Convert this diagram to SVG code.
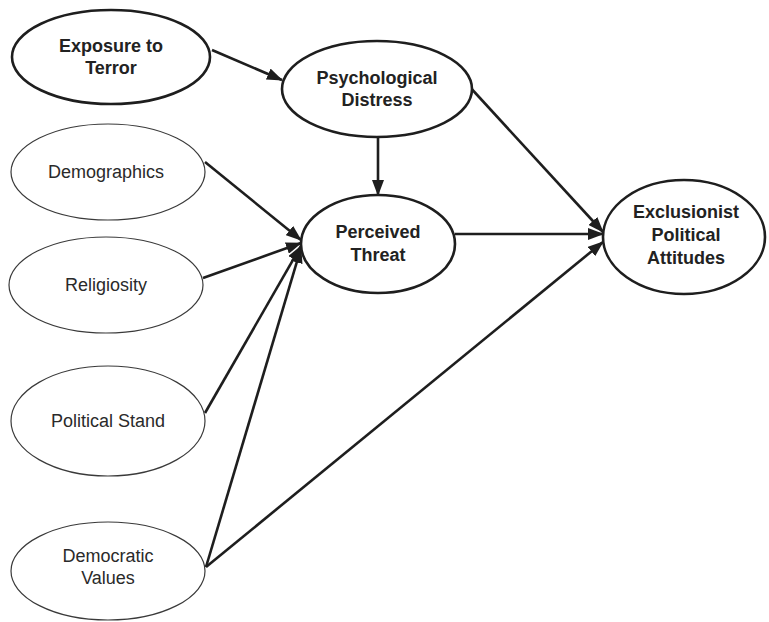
<svg xmlns="http://www.w3.org/2000/svg" width="769" height="622" viewBox="0 0 769 622">
<style>
.bold{fill:#fff;stroke:#1e1e1e;stroke-width:2.6}
.thin{fill:#fff;stroke:#3a3a3a;stroke-width:1.2}
.tb{font-family:"Liberation Sans",Arial,sans-serif;font-size:18px;font-weight:bold;fill:#222;text-anchor:middle}
.tr{font-family:"Liberation Sans",Arial,sans-serif;font-size:18px;fill:#2a2a2a;text-anchor:middle}
.c{stroke:#1e1e1e;stroke-width:2.6;fill:none}
</style>
<defs>
<marker id="ah" markerUnits="userSpaceOnUse" markerWidth="16" markerHeight="12" refX="15" refY="6" orient="auto" viewBox="0 0 16 12">
<path d="M0,0 L16,6 L0,12 Z" fill="#1e1e1e"/>
</marker>
</defs>
<g id="connectors">
<line class="c" x1="212" y1="50" x2="282" y2="80" marker-end="url(#ah)"/>
<line class="c" x1="378" y1="137" x2="378" y2="195" marker-end="url(#ah)"/>
<line class="c" x1="468" y1="85" x2="603" y2="232" marker-end="url(#ah)"/>
<line class="c" x1="455" y1="234" x2="603" y2="234" marker-end="url(#ah)"/>
<line class="c" x1="205" y1="162" x2="301" y2="240" marker-end="url(#ah)"/>
<line class="c" x1="203" y1="278" x2="301" y2="243" marker-end="url(#ah)"/>
<line class="c" x1="205" y1="413" x2="301" y2="246" marker-end="url(#ah)"/>
<line class="c" x1="206" y1="567" x2="301" y2="248" marker-end="url(#ah)"/>
<line class="c" x1="206" y1="567" x2="603" y2="242" marker-end="url(#ah)"/>
</g>
<g id="exposure">
<ellipse class="bold" cx="111" cy="57" rx="99" ry="47"/>
<text class="tb" x="111" y="52">Exposure to</text>
<text class="tb" x="111" y="74">Terror</text>
</g>
<g id="distress">
<ellipse class="bold" cx="377" cy="89" rx="95" ry="48"/>
<text class="tb" x="377" y="84">Psychological</text>
<text class="tb" x="377" y="106">Distress</text>
</g>
<g id="demographics">
<ellipse class="thin" cx="108" cy="172" rx="97" ry="48"/>
<text class="tr" x="106" y="178">Demographics</text>
</g>
<g id="threat">
<ellipse class="bold" cx="378" cy="244" rx="77" ry="49"/>
<text class="tb" x="378" y="238">Perceived</text>
<text class="tb" x="378" y="261">Threat</text>
</g>
<g id="exclusionist">
<ellipse class="bold" cx="684" cy="237" rx="81" ry="57"/>
<text class="tb" x="686" y="218">Exclusionist</text>
<text class="tb" x="686" y="241">Political</text>
<text class="tb" x="686" y="264">Attitudes</text>
</g>
<g id="religiosity">
<ellipse class="thin" cx="106" cy="285" rx="97" ry="48"/>
<text class="tr" x="106" y="291">Religiosity</text>
</g>
<g id="politicalstand">
<ellipse class="thin" cx="108" cy="421" rx="97" ry="55"/>
<text class="tr" x="108" y="427">Political Stand</text>
</g>
<g id="democratic">
<ellipse class="thin" cx="108" cy="571" rx="97" ry="49"/>
<text class="tr" x="108" y="562">Democratic</text>
<text class="tr" x="108" y="584">Values</text>
</g>
</svg>
